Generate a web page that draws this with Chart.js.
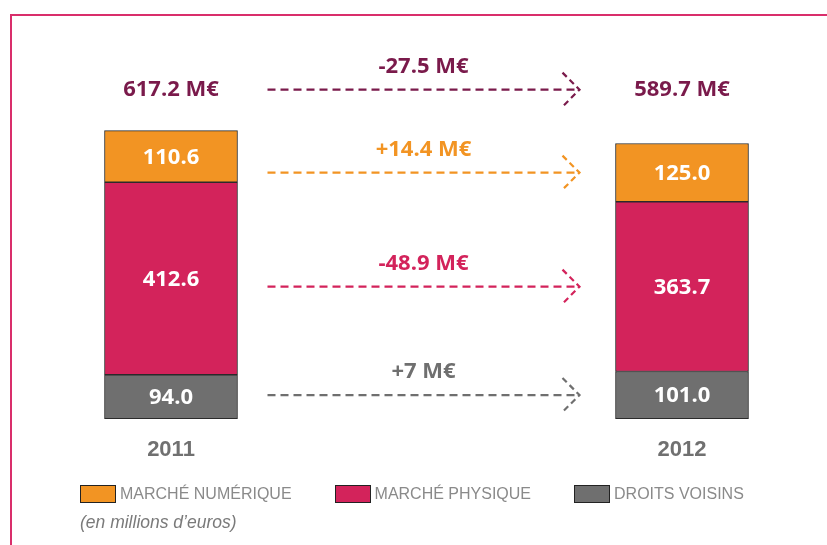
<!DOCTYPE html>
<html>
<head>
<meta charset="utf-8">
<script src="https://cdn.jsdelivr.net/npm/chart.js@4.4.1/dist/chart.umd.min.js"></script>
<style>
html,body{margin:0;padding:0;background:#fff;}
#wrap{position:relative;width:827px;height:545px;overflow:hidden;}
#frame{position:absolute;left:10px;top:14px;right:-4px;bottom:-4px;border-left:2px solid #d92e6b;border-top:2px solid #d92e6b;}
#chart{position:absolute;left:0;top:0;}
#legend{position:absolute;left:80px;top:485px;display:flex;gap:43px;font:16px "Liberation Sans",Arial,sans-serif;color:#8a8a8a;}
#legend .item{display:flex;align-items:center;}
#legend .box{width:34px;height:16px;border:1px solid #222;margin-right:4px;}
#note{position:absolute;left:80px;top:512px;font:italic 17.5px "Liberation Sans",Arial,sans-serif;color:#7a7a7a;}
</style>
</head>
<body>
<div id="wrap">
  <div id="frame"></div>
  <canvas id="chart" width="827" height="545"></canvas>
  <div id="legend"></div>
  <div id="note">(en millions d’euros)</div>
</div>
<script>
/* ===== Data ===== */
const years = ['2011', '2012'];
const numerique = [110.6, 125.0];
const physique = [412.6, 363.7];
const droits = [94.0, 101.0];
const seriesNames = ['MARCHÉ NUMÉRIQUE', 'MARCHÉ PHYSIQUE', 'DROITS VOISINS'];

/* ===== Colours ===== */
const ORANGE = '#f29423', PINK = '#d3235b', GREY = '#6f6f6f', MAROON = '#7a1a4b';
const NUM_FONT = '"Open Sans", "Noto Sans", sans-serif';

const totals = years.map((_, i) => droits[i] + physique[i] + numerique[i]);
const fmtDelta = v => {
  const r = Math.round(v * 10) / 10;
  const s = Number.isInteger(r) ? String(r) : r.toFixed(1);
  return (r > 0 ? '+' : '') + s + ' M€';
};

/* ===== Legend (html) ===== */
const legend = document.getElementById('legend');
[[seriesNames[0], ORANGE], [seriesNames[1], PINK], [seriesNames[2], GREY]].forEach(([name, col]) => {
  const it = document.createElement('div'); it.className = 'item';
  it.innerHTML = `<span class="box" style="background:${col}"></span><span>${name}</span>`;
  legend.appendChild(it);
});

/* ===== Arrows, totals, segment labels ===== */
const BAR_W = 133;
function dashedArrow(ctx, x0, x1, y, color, text){
  ctx.save();
  ctx.strokeStyle = color; ctx.lineWidth = 2.2;
  ctx.setLineDash([8, 5]);
  ctx.beginPath(); ctx.moveTo(x0, y); ctx.lineTo(x1, y); ctx.stroke();
  ctx.setLineDash([6, 4]);
  ctx.beginPath(); ctx.moveTo(x1 - 17, y - 17); ctx.lineTo(x1, y); ctx.lineTo(x1 - 17, y + 17); ctx.stroke();
  ctx.setLineDash([]);
  ctx.fillStyle = color;
  ctx.font = 'bold 22px ' + NUM_FONT;
  ctx.textAlign = 'center'; ctx.textBaseline = 'middle';
  ctx.fillText(text, (x0 + x1) / 2, y - 23);
  ctx.restore();
}

const annot = {
  id: 'annot',
  afterDatasetsDraw(chart){
    const {ctx, scales: {x, y}} = chart;
    ctx.save();
    ctx.textAlign = 'center'; ctx.textBaseline = 'middle';
    ctx.font = 'bold 22px ' + NUM_FONT;
    ctx.fillStyle = '#fff';
    chart.data.datasets.forEach((ds, di) => {
      chart.getDatasetMeta(di).data.forEach((bar, i) => {
        ctx.fillText(ds.data[i].toFixed(1), bar.x, (bar.y + bar.base) / 2 + 1);
      });
    });
    // totals
    const topY = y.getPixelForValue(Math.max(...totals)) - 41;
    ctx.fillStyle = MAROON;
    years.forEach((_, i) => ctx.fillText(totals[i].toFixed(1) + ' M€', x.getPixelForValue(i), topY));
    ctx.restore();

    const x0 = x.getPixelForValue(0) + BAR_W / 2 + 30;
    const x1 = x.getPixelForValue(1) - BAR_W / 2 - 36;
    dashedArrow(ctx, x0, x1, topY, MAROON, fmtDelta(totals[1] - totals[0]));
    chart.data.datasets.forEach((ds, di) => {
      const bar = chart.getDatasetMeta(di).data[1];
      dashedArrow(ctx, x0, x1, (bar.y + bar.base) / 2, ds.backgroundColor, fmtDelta(ds.data[1] - ds.data[0]));
    });
  }
};

/* ===== Chart ===== */
const common = {borderColor: '#2b2b2b', borderWidth: 1, borderSkipped: false, barThickness: BAR_W, clip: false};
const hiddenAxis = w => ({
  stacked: true, min: 0, max: 700,
  grid: {display: false, drawTicks: false}, border: {display: false}, ticks: {display: false},
  afterFit: s => { s.width = w; }
});

new Chart(document.getElementById('chart'), {
  type: 'bar',
  data: {
    labels: years,
    datasets: [
      {label: seriesNames[2], data: droits, backgroundColor: GREY, ...common},
      {label: seriesNames[1], data: physique, backgroundColor: PINK, ...common},
      {label: seriesNames[0], data: numerique, backgroundColor: ORANGE, ...common}
    ]
  },
  options: {
    responsive: false, animation: false,
    layout: {padding: {top: 92, bottom: 64, left: 0, right: 0}},
    plugins: {legend: {display: false}, tooltip: {enabled: false}},
    scales: {
      x: {
        stacked: true, offset: false,
        grid: {display: false, drawTicks: false}, border: {display: false},
        ticks: {color: '#707070', padding: 18, font: {family: '"Liberation Sans", Arial, sans-serif', size: 22, weight: 'bold'}}
      },
      y: hiddenAxis(171),
      yR: {...hiddenAxis(145), position: 'right'}
    }
  },
  plugins: [annot]
});
</script>
</body>
</html>
